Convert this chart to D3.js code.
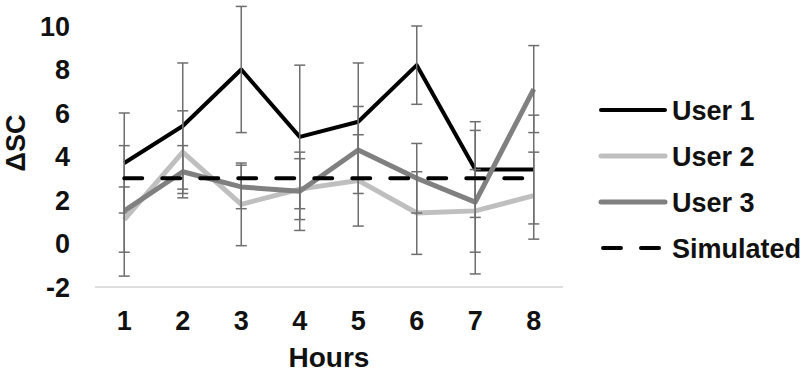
<!DOCTYPE html>
<html>
<head>
    <meta charset="utf-8">
    <script src="https://cdnjs.cloudflare.com/ajax/libs/d3/7.8.5/d3.min.js"></script>
    <style>
        body {
            margin: 0;
            background: white;
            font-family: "Liberation Sans", Arial, sans-serif;
        }
        svg text {
            font-weight: bold;
            fill: #111;
        }
    </style>
</head>
<body>
    <div id="chart"></div>
    <script>
        // Data
        const hours = ['1', '2', '3', '4', '5', '6', '7', '8'];
        const user1 = [3.7, 5.4, 8.0, 4.9, 5.6, 8.2, 3.4, 3.4];
        const user1Err = [2.3, 2.9, 2.9, 3.3, 2.7, 1.8, 2.2, 2.5];
        const user2 = [1.1, 4.2, 1.8, 2.5, 2.9, 1.4, 1.5, 2.2];
        const user2Err = [1.5, 1.9, 1.9, 1.4, 2.1, 1.9, 1.9, 2.0];
        const user3 = [1.5, 3.3, 2.6, 2.4, 4.3, 3.0, 1.9, 7.1];
        const user3Err = [3.0, 1.2, 1.0, 1.8, 2.0, 1.6, 3.3, 2.0];
        const simulated = [3, 3, 3, 3, 3, 3, 3, 3];
        const yTicks = [-2, 0, 2, 4, 6, 8, 10];

        const series = [
            { name: 'User 1', values: user1, err: user1Err, color: '#000000', width: 4, dash: null },
            { name: 'User 2', values: user2, err: user2Err, color: '#bfbfbf', width: 5, dash: null },
            { name: 'User 3', values: user3, err: user3Err, color: '#808080', width: 5, dash: null },
            { name: 'Simulated', values: simulated, err: null, color: '#000000', width: 4, dash: '18,20' }
        ];

        const width = 810, height = 373;

        const svg = d3.select('#chart')
            .append('svg')
            .attr('width', width)
            .attr('height', height);

        // Scales
        const x = d3.scaleBand().domain(hours).range([95, 563]).padding(0);
        const y = d3.scaleLinear().domain([-2, 10]).range([287, 26]);
        const cx = h => x(h) + x.bandwidth() / 2;

        // X axis line
        svg.append('line')
            .attr('x1', 95).attr('x2', 563)
            .attr('y1', y(-2)).attr('y2', y(-2))
            .attr('stroke', '#d4d4d4')
            .attr('stroke-width', 1.5);

        // Tick labels
        svg.selectAll('.y-label')
            .data(yTicks)
            .enter()
            .append('text')
            .attr('class', 'y-label')
            .attr('x', 70)
            .attr('y', d => y(d))
            .attr('dy', '0.36em')
            .attr('text-anchor', 'end')
            .style('font-size', '27px')
            .text(d => d);

        svg.selectAll('.x-label')
            .data(hours)
            .enter()
            .append('text')
            .attr('class', 'x-label')
            .attr('x', d => cx(d))
            .attr('y', 320)
            .attr('dy', '0.36em')
            .attr('text-anchor', 'middle')
            .style('font-size', '27px')
            .text(d => d);

        // Axis titles
        svg.append('text')
            .attr('x', 329)
            .attr('y', 357)
            .attr('dy', '0.36em')
            .attr('text-anchor', 'middle')
            .style('font-size', '28px')
            .text('Hours');

        svg.append('text')
            .attr('transform', 'translate(15,143) rotate(-90)')
            .attr('dy', '0.36em')
            .attr('text-anchor', 'middle')
            .style('font-size', '27px')
            .text('ΔSC');

        // Lines and error bars
        const line = d3.line()
            .x((d, i) => cx(hours[i]))
            .y(d => y(d));

        series.forEach(s => {
            svg.append('path')
                .datum(s.values)
                .attr('d', line)
                .attr('fill', 'none')
                .attr('stroke', s.color)
                .attr('stroke-width', s.width)
                .attr('stroke-linejoin', 'round')
                .attr('stroke-linecap', s.dash ? 'round' : 'butt')
                .attr('stroke-dasharray', s.dash);

            if (!s.err) return;
            const bars = svg.append('g')
                .attr('stroke', '#6e6e6e')
                .attr('stroke-width', 1.5);
            s.values.forEach((v, i) => {
                const xc = cx(hours[i]);
                const top = y(v + s.err[i]);
                const bot = y(v - s.err[i]);
                bars.append('line').attr('x1', xc).attr('x2', xc).attr('y1', top).attr('y2', bot);
                bars.append('line').attr('x1', xc - 5.5).attr('x2', xc + 5.5).attr('y1', top).attr('y2', top);
                bars.append('line').attr('x1', xc - 5.5).attr('x2', xc + 5.5).attr('y1', bot).attr('y2', bot);
            });
        });

        // Legend
        const legend = svg.selectAll('.legend')
            .data(series)
            .enter()
            .append('g')
            .attr('class', 'legend')
            .attr('transform', (d, i) => `translate(0,${110 + i * 46})`);

        legend.append('line')
            .attr('x1', d => d.dash ? 603 : 601)
            .attr('x2', 665)
            .attr('y1', 0).attr('y2', 0)
            .attr('stroke', d => d.color)
            .attr('stroke-width', d => d.width)
            .attr('stroke-linecap', 'round')
            .attr('stroke-dasharray', d => d.dash);

        legend.append('text')
            .attr('x', 672)
            .attr('y', 0)
            .attr('dy', '0.36em')
            .style('font-size', '27px')
            .text(d => d.name);
    </script>
</body>
</html>
